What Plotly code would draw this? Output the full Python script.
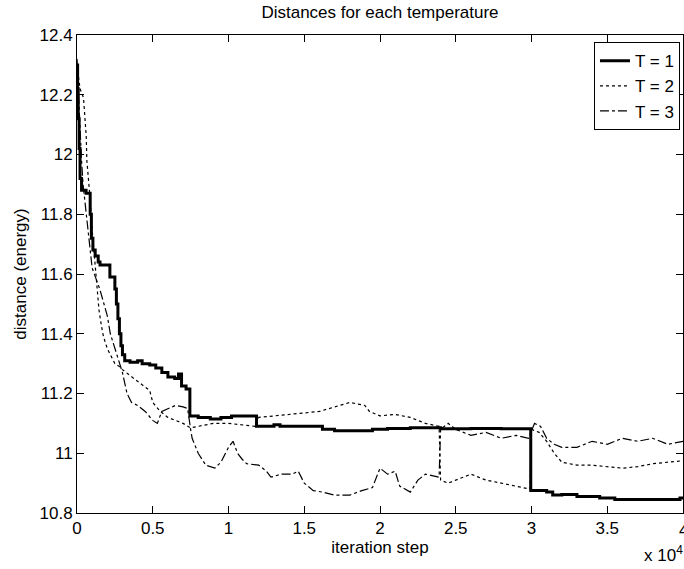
import plotly.graph_objects as go

# iteration step in units of 1e4
t1_x = [0, 0.004, 0.008, 0.014, 0.02, 0.03, 0.06, 0.087, 0.095, 0.105, 0.12, 0.14, 0.152, 0.217, 0.25, 0.26,
        0.27, 0.28, 0.29, 0.30, 0.315, 0.35, 0.40, 0.43, 0.48, 0.52, 0.56, 0.60, 0.645, 0.67, 0.69, 0.72,
        0.745, 0.80, 0.88, 0.95, 1.02, 1.10, 1.185, 1.30, 1.34, 1.50, 1.62, 1.70, 1.95, 2.05, 2.2, 2.4,
        2.6, 2.8, 2.995, 3.10, 3.14, 3.20, 3.30, 3.45, 3.55, 3.90, 3.98, 4.0]
t1_y = [12.30, 12.22, 12.12, 12.02, 11.92, 11.88, 11.87, 11.80, 11.72, 11.68, 11.66, 11.64, 11.63, 11.59, 11.55, 11.50,
        11.45, 11.40, 11.36, 11.33, 11.31, 11.305, 11.31, 11.30, 11.295, 11.285, 11.27, 11.255, 11.25, 11.265, 11.225, 11.215,
        11.125, 11.12, 11.115, 11.12, 11.125, 11.125, 11.09, 11.095, 11.09, 11.09, 11.08, 11.075, 11.08, 11.083, 11.085, 11.082,
        11.083, 11.082, 10.875, 10.87, 10.86, 10.862, 10.855, 10.85, 10.845, 10.845, 10.85, 10.85]

t2_x = [0, 0.02, 0.043, 0.054, 0.061, 0.065, 0.076, 0.087, 0.098, 0.109, 0.12, 0.13, 0.145, 0.16, 0.175, 0.20,
        0.22, 0.25, 0.28, 0.30, 0.35, 0.40, 0.45, 0.48, 0.50, 0.55, 0.60, 0.65, 0.70, 0.75, 0.80, 0.90,
        1.00, 1.10, 1.18, 1.20, 1.30, 1.40, 1.50, 1.60, 1.70, 1.80, 1.85, 1.90, 1.93, 1.97, 2.00, 2.10,
        2.20, 2.30, 2.39, 2.40, 2.45, 2.50, 2.55, 2.60, 2.65, 2.70, 2.80, 2.90, 2.99, 3.00, 3.05, 3.10,
        3.15, 3.20, 3.30, 3.40, 3.50, 3.60, 3.70, 3.80, 3.90, 4.00]
t2_y = [12.30, 12.22, 12.19, 12.12, 12.06, 11.98, 11.92, 11.85, 11.76, 11.69, 11.62, 11.55, 11.48, 11.43, 11.39, 11.35,
        11.33, 11.30, 11.29, 11.28, 11.26, 11.24, 11.22, 11.21, 11.17, 11.14, 11.12, 11.11, 11.10, 11.085, 11.09, 11.10,
        11.10, 11.095, 11.09, 11.12, 11.125, 11.13, 11.135, 11.14, 11.155, 11.17, 11.165, 11.16, 11.14, 11.13, 11.125, 11.13,
        11.12, 11.10, 11.09, 10.91, 10.90, 10.91, 10.92, 10.93, 10.92, 10.91, 10.90, 10.89, 10.88, 11.08, 11.07, 11.04,
        11.00, 10.97, 10.96, 10.96, 10.955, 10.95, 10.955, 10.965, 10.97, 10.975]

t3_x = [0, 0.005, 0.01, 0.02, 0.03, 0.04, 0.06, 0.08, 0.10, 0.15, 0.20, 0.22, 0.25, 0.28, 0.30, 0.33,
        0.36, 0.40, 0.45, 0.50, 0.53, 0.56, 0.60, 0.65, 0.70, 0.73, 0.75, 0.76, 0.80, 0.85, 0.91, 0.95,
        1.00, 1.03, 1.06, 1.09, 1.12, 1.20, 1.25, 1.28, 1.35, 1.42, 1.46, 1.50, 1.56, 1.62, 1.70, 1.80,
        1.88, 1.95, 2.00, 2.05, 2.10, 2.13, 2.20, 2.25, 2.30, 2.39, 2.40, 2.45, 2.50, 2.60, 2.70, 2.80,
        2.90, 2.98, 3.02, 3.06, 3.10, 3.15, 3.20, 3.30, 3.40, 3.50, 3.60, 3.70, 3.80, 3.90, 4.00]
t3_y = [12.32, 12.28, 12.20, 12.08, 11.98, 11.90, 11.80, 11.70, 11.62, 11.55, 11.46, 11.40, 11.35, 11.30, 11.27, 11.20,
        11.17, 11.16, 11.14, 11.11, 11.10, 11.14, 11.15, 11.16, 11.155, 11.15, 11.08, 11.05, 11.00, 10.96, 10.95, 10.97,
        11.02, 11.04, 11.00, 10.98, 10.965, 10.96, 10.94, 10.92, 10.93, 10.93, 10.94, 10.90, 10.875, 10.87, 10.86, 10.86,
        10.875, 10.885, 10.95, 10.93, 10.94, 10.89, 10.87, 10.91, 10.93, 10.92, 11.08, 11.10, 11.08, 11.06, 11.07, 11.05,
        11.06, 11.05, 11.10, 11.09, 11.05, 11.03, 11.02, 11.02, 11.04, 11.03, 11.05, 11.04, 11.05, 11.03, 11.04]

names = ["T = 1", "T = 2", "T = 3"]

fig = go.Figure()
fig.add_trace(go.Scatter(x=t1_x, y=t1_y, name=names[0], mode="lines", line_shape="hv",
                         line=dict(color="black", width=3, dash="solid")))
fig.add_trace(go.Scatter(x=t2_x, y=t2_y, name=names[1], mode="lines",
                         line=dict(color="black", width=1.2, dash="dot")))
fig.add_trace(go.Scatter(x=t3_x, y=t3_y, name=names[2], mode="lines",
                         line=dict(color="black", width=1.2, dash="dashdot")))

font = "Liberation Sans, Arial, Helvetica, sans-serif"
xticks = [0, 0.5, 1, 1.5, 2, 2.5, 3, 3.5, 4]
yticks = [10.8, 11, 11.2, 11.4, 11.6, 11.8, 12, 12.2, 12.4]
FS = 17

fig.update_layout(
    width=684, height=569,
    margin=dict(l=77, r=1, t=35, b=56),
    paper_bgcolor="white", plot_bgcolor="white",
    font=dict(family=font, size=FS, color="black"),
    title=dict(text="Distances for each temperature", x=0.5, xref="paper", y=0.978, yanchor="middle",
               font=dict(size=FS)),
    xaxis=dict(range=[0, 4], tickvals=xticks[:-1], ticktext=[f"{v:g}" for v in xticks[:-1]],
               showgrid=False, zeroline=False, showline=True, linecolor="black", linewidth=1,
               mirror="ticks", ticks="inside", ticklen=7, tickcolor="black", automargin=False,
               title=dict(text="iteration step", standoff=2, font=dict(size=FS))),
    yaxis=dict(range=[10.8, 12.4], tickvals=yticks, ticktext=[f"{v:g}" for v in yticks],
               showgrid=False, zeroline=False, showline=True, linecolor="black", linewidth=1,
               mirror="ticks", ticks="inside", ticklen=7, tickcolor="black", automargin=False,
               title=dict(text="distance (energy)", standoff=8, font=dict(size=FS))),
    legend=dict(x=0.995, y=0.985, xanchor="right", yanchor="top", bordercolor="black", borderwidth=1,
                bgcolor="white", font=dict(size=FS), tracegroupgap=0, itemwidth=30),
    showlegend=True,
)
# last x tick label (partly clipped at the right edge, as in the reference)
fig.add_annotation(text=f"{xticks[-1]:g}", xref="x", yref="paper", x=xticks[-1], y=-0.012,
                   xanchor="center", yanchor="top", showarrow=False, font=dict(size=FS))
fig.add_annotation(text="x 10<sup>4</sup>", xref="paper", yref="paper", x=0.932, y=-0.113,
                   xanchor="left", yanchor="bottom", showarrow=False, font=dict(size=FS))

fig.write_html("out.html")
